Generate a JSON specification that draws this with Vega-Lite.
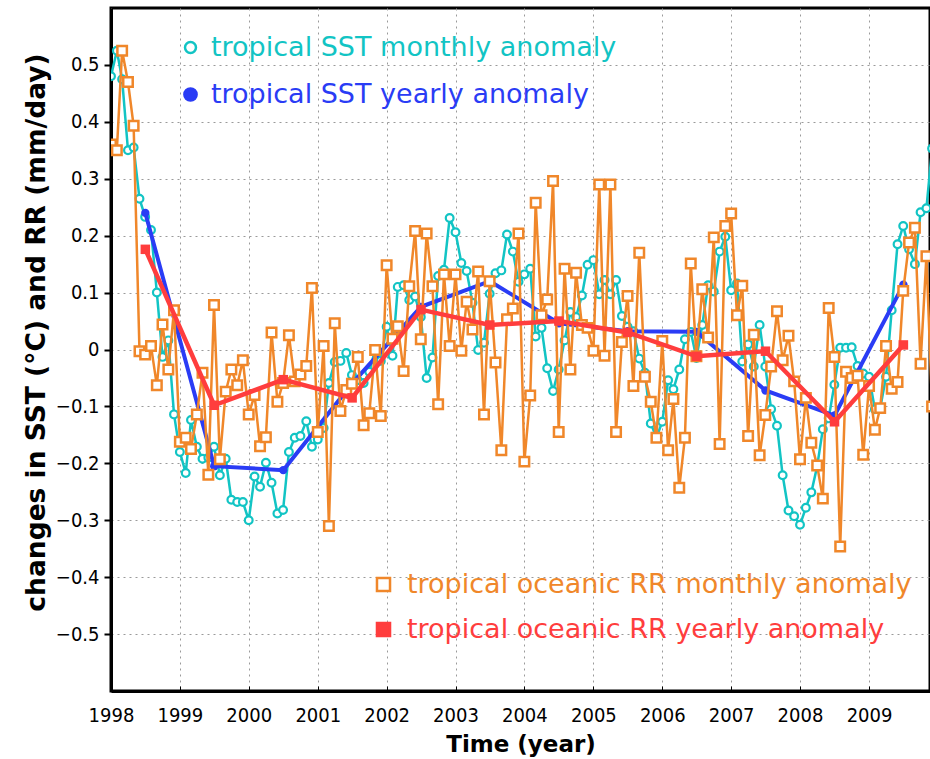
{
  "$schema": "https://vega.github.io/schema/vega-lite/v6.json",
  "width": 819,
  "height": 683,
  "autosize": {"type": "none"},
  "padding": {"left": 111, "top": 8, "right": 0, "bottom": 68},
  "background": "white",
  "datasets": {
    "monthly": [
      {"d": "1998-01-01", "sst": 0.48, "rr": 0.36},
      {"d": "1998-02-01", "sst": 0.525, "rr": 0.35},
      {"d": "1998-03-01", "sst": 0.475, "rr": 0.525},
      {"d": "1998-04-01", "sst": 0.35, "rr": 0.47},
      {"d": "1998-05-01", "sst": 0.355, "rr": 0.393},
      {"d": "1998-06-01", "sst": 0.265, "rr": -0.003},
      {"d": "1998-07-01", "sst": 0.233, "rr": -0.009},
      {"d": "1998-08-01", "sst": 0.21, "rr": 0.006},
      {"d": "1998-09-01", "sst": 0.1, "rr": -0.063},
      {"d": "1998-10-01", "sst": -0.013, "rr": 0.044},
      {"d": "1998-11-01", "sst": 0.016, "rr": -0.035},
      {"d": "1998-12-01", "sst": -0.114, "rr": 0.069},
      {"d": "1999-01-01", "sst": -0.18, "rr": -0.162},
      {"d": "1999-02-01", "sst": -0.217, "rr": -0.155},
      {"d": "1999-03-01", "sst": -0.124, "rr": -0.175},
      {"d": "1999-04-01", "sst": -0.171, "rr": -0.114},
      {"d": "1999-05-01", "sst": -0.192, "rr": -0.041},
      {"d": "1999-06-01", "sst": -0.19, "rr": -0.22},
      {"d": "1999-07-01", "sst": -0.171, "rr": 0.078},
      {"d": "1999-08-01", "sst": -0.221, "rr": -0.193},
      {"d": "1999-09-01", "sst": -0.192, "rr": -0.074},
      {"d": "1999-10-01", "sst": -0.264, "rr": -0.035},
      {"d": "1999-11-01", "sst": -0.268, "rr": -0.063},
      {"d": "1999-12-01", "sst": -0.268, "rr": -0.019},
      {"d": "2000-01-01", "sst": -0.3, "rr": -0.114},
      {"d": "2000-02-01", "sst": -0.223, "rr": -0.08},
      {"d": "2000-03-01", "sst": -0.241, "rr": -0.17},
      {"d": "2000-04-01", "sst": -0.199, "rr": -0.154},
      {"d": "2000-05-01", "sst": -0.234, "rr": 0.03},
      {"d": "2000-06-01", "sst": -0.288, "rr": -0.092},
      {"d": "2000-07-01", "sst": -0.282, "rr": -0.059},
      {"d": "2000-08-01", "sst": -0.18, "rr": 0.025},
      {"d": "2000-09-01", "sst": -0.155, "rr": -0.056},
      {"d": "2000-10-01", "sst": -0.152, "rr": -0.044},
      {"d": "2000-11-01", "sst": -0.126, "rr": -0.029},
      {"d": "2000-12-01", "sst": -0.171, "rr": 0.108},
      {"d": "2001-01-01", "sst": -0.158, "rr": -0.145},
      {"d": "2001-02-01", "sst": -0.138, "rr": 0.006},
      {"d": "2001-03-01", "sst": -0.059, "rr": -0.31},
      {"d": "2001-04-01", "sst": -0.022, "rr": 0.046},
      {"d": "2001-05-01", "sst": -0.02, "rr": -0.108},
      {"d": "2001-06-01", "sst": -0.006, "rr": -0.071},
      {"d": "2001-07-01", "sst": -0.045, "rr": -0.06},
      {"d": "2001-08-01", "sst": -0.054, "rr": -0.013},
      {"d": "2001-09-01", "sst": -0.059, "rr": -0.133},
      {"d": "2001-10-01", "sst": -0.039, "rr": -0.112},
      {"d": "2001-11-01", "sst": 0.0, "rr": -0.001},
      {"d": "2001-12-01", "sst": -0.02, "rr": -0.117},
      {"d": "2002-01-01", "sst": 0.04, "rr": 0.148},
      {"d": "2002-02-01", "sst": -0.011, "rr": 0.019},
      {"d": "2002-03-01", "sst": 0.11, "rr": 0.041},
      {"d": "2002-04-01", "sst": 0.113, "rr": -0.038},
      {"d": "2002-05-01", "sst": 0.087, "rr": 0.111},
      {"d": "2002-06-01", "sst": 0.093, "rr": 0.208},
      {"d": "2002-07-01", "sst": 0.057, "rr": 0.018},
      {"d": "2002-08-01", "sst": -0.05, "rr": 0.204},
      {"d": "2002-09-01", "sst": -0.014, "rr": 0.111},
      {"d": "2002-10-01", "sst": 0.129, "rr": -0.096},
      {"d": "2002-11-01", "sst": 0.14, "rr": 0.132},
      {"d": "2002-12-01", "sst": 0.231, "rr": 0.006},
      {"d": "2003-01-01", "sst": 0.206, "rr": 0.132},
      {"d": "2003-02-01", "sst": 0.152, "rr": -0.002},
      {"d": "2003-03-01", "sst": 0.138, "rr": 0.084},
      {"d": "2003-04-01", "sst": 0.082, "rr": 0.035},
      {"d": "2003-05-01", "sst": -0.001, "rr": 0.137},
      {"d": "2003-06-01", "sst": 0.012, "rr": -0.114},
      {"d": "2003-07-01", "sst": 0.098, "rr": 0.12},
      {"d": "2003-08-01", "sst": 0.134, "rr": -0.023},
      {"d": "2003-09-01", "sst": 0.139, "rr": -0.177},
      {"d": "2003-10-01", "sst": 0.202, "rr": 0.053},
      {"d": "2003-11-01", "sst": 0.172, "rr": 0.072},
      {"d": "2003-12-01", "sst": 0.119, "rr": 0.204},
      {"d": "2004-01-01", "sst": 0.132, "rr": -0.197},
      {"d": "2004-02-01", "sst": 0.142, "rr": -0.081},
      {"d": "2004-03-01", "sst": 0.023, "rr": 0.258},
      {"d": "2004-04-01", "sst": 0.038, "rr": 0.06},
      {"d": "2004-05-01", "sst": -0.033, "rr": 0.088},
      {"d": "2004-06-01", "sst": -0.073, "rr": 0.296},
      {"d": "2004-07-01", "sst": -0.035, "rr": -0.145},
      {"d": "2004-08-01", "sst": 0.016, "rr": 0.142},
      {"d": "2004-09-01", "sst": 0.066, "rr": -0.035},
      {"d": "2004-10-01", "sst": 0.057, "rr": 0.135},
      {"d": "2004-11-01", "sst": 0.095, "rr": 0.043},
      {"d": "2004-12-01", "sst": 0.149, "rr": 0.038},
      {"d": "2005-01-01", "sst": 0.157, "rr": -0.002},
      {"d": "2005-02-01", "sst": 0.097, "rr": 0.29},
      {"d": "2005-03-01", "sst": 0.122, "rr": -0.011},
      {"d": "2005-04-01", "sst": 0.097, "rr": 0.29},
      {"d": "2005-05-01", "sst": 0.122, "rr": -0.145},
      {"d": "2005-06-01", "sst": 0.059, "rr": 0.013},
      {"d": "2005-07-01", "sst": 0.04, "rr": 0.094},
      {"d": "2005-08-01", "sst": 0.032, "rr": -0.064},
      {"d": "2005-09-01", "sst": -0.016, "rr": 0.17},
      {"d": "2005-10-01", "sst": -0.041, "rr": -0.048},
      {"d": "2005-11-01", "sst": -0.13, "rr": -0.092},
      {"d": "2005-12-01", "sst": -0.155, "rr": -0.155},
      {"d": "2006-01-01", "sst": -0.127, "rr": 0.015},
      {"d": "2006-02-01", "sst": -0.054, "rr": -0.177},
      {"d": "2006-03-01", "sst": -0.07, "rr": -0.087},
      {"d": "2006-04-01", "sst": -0.035, "rr": -0.243},
      {"d": "2006-05-01", "sst": 0.018, "rr": -0.155},
      {"d": "2006-06-01", "sst": 0.031, "rr": 0.151},
      {"d": "2006-07-01", "sst": -0.015, "rr": -0.012},
      {"d": "2006-08-01", "sst": 0.043, "rr": 0.106},
      {"d": "2006-09-01", "sst": 0.113, "rr": 0.021},
      {"d": "2006-10-01", "sst": 0.102, "rr": 0.197},
      {"d": "2006-11-01", "sst": 0.172, "rr": -0.166},
      {"d": "2006-12-01", "sst": 0.198, "rr": 0.217},
      {"d": "2007-01-01", "sst": 0.104, "rr": 0.239},
      {"d": "2007-02-01", "sst": 0.116, "rr": 0.06},
      {"d": "2007-03-01", "sst": -0.021, "rr": 0.112},
      {"d": "2007-04-01", "sst": 0.009, "rr": -0.152},
      {"d": "2007-05-01", "sst": -0.03, "rr": 0.026},
      {"d": "2007-06-01", "sst": 0.043, "rr": -0.186},
      {"d": "2007-07-01", "sst": -0.03, "rr": -0.115},
      {"d": "2007-08-01", "sst": -0.105, "rr": -0.03},
      {"d": "2007-09-01", "sst": -0.134, "rr": 0.067},
      {"d": "2007-10-01", "sst": -0.221, "rr": -0.019},
      {"d": "2007-11-01", "sst": -0.283, "rr": 0.024},
      {"d": "2007-12-01", "sst": -0.293, "rr": -0.056},
      {"d": "2008-01-01", "sst": -0.308, "rr": -0.193},
      {"d": "2008-02-01", "sst": -0.278, "rr": -0.085},
      {"d": "2008-03-01", "sst": -0.251, "rr": -0.164},
      {"d": "2008-04-01", "sst": -0.205, "rr": -0.204},
      {"d": "2008-05-01", "sst": -0.14, "rr": -0.262},
      {"d": "2008-06-01", "sst": -0.121, "rr": 0.073},
      {"d": "2008-07-01", "sst": -0.062, "rr": -0.013},
      {"d": "2008-08-01", "sst": 0.003, "rr": -0.346},
      {"d": "2008-09-01", "sst": 0.003, "rr": -0.039},
      {"d": "2008-10-01", "sst": 0.004, "rr": -0.05},
      {"d": "2008-11-01", "sst": -0.029, "rr": -0.046},
      {"d": "2008-12-01", "sst": -0.042, "rr": -0.185},
      {"d": "2009-01-01", "sst": -0.048, "rr": -0.064},
      {"d": "2009-02-01", "sst": -0.105, "rr": -0.141},
      {"d": "2009-03-01", "sst": -0.103, "rr": -0.103},
      {"d": "2009-04-01", "sst": -0.048, "rr": 0.006},
      {"d": "2009-05-01", "sst": 0.069, "rr": -0.069},
      {"d": "2009-06-01", "sst": 0.185, "rr": -0.057},
      {"d": "2009-07-01", "sst": 0.217, "rr": 0.103},
      {"d": "2009-08-01", "sst": 0.176, "rr": 0.188},
      {"d": "2009-09-01", "sst": 0.15, "rr": 0.214},
      {"d": "2009-10-01", "sst": 0.241, "rr": -0.025},
      {"d": "2009-11-01", "sst": 0.248, "rr": 0.164},
      {"d": "2009-12-01", "sst": 0.353, "rr": -0.1}
    ],
    "yearly": [
      {"d": "1998-07-02", "sst": 0.24, "rr": 0.176},
      {"d": "1999-07-02", "sst": -0.205, "rr": -0.098},
      {"d": "2000-07-02", "sst": -0.212, "rr": -0.053},
      {"d": "2001-07-02", "sst": -0.06, "rr": -0.085},
      {"d": "2002-07-02", "sst": 0.075, "rr": 0.07},
      {"d": "2003-07-02", "sst": 0.12, "rr": 0.043},
      {"d": "2004-07-02", "sst": 0.046, "rr": 0.05},
      {"d": "2005-07-02", "sst": 0.032, "rr": 0.03},
      {"d": "2006-07-02", "sst": 0.031, "rr": -0.012},
      {"d": "2007-07-02", "sst": -0.072, "rr": -0.003},
      {"d": "2008-07-02", "sst": -0.116, "rr": -0.127},
      {"d": "2009-07-02", "sst": 0.114, "rr": 0.008}
    ]
  },
  "config": {
    "view": {"stroke": "black", "strokeWidth": 3},
    "axis": {
      "gridColor": "#9a9a9a",
      "gridDash": [2, 4],
      "gridWidth": 1,
      "gridOpacity": 1,
      "domainColor": "black",
      "domainWidth": 3,
      "tickColor": "black",
      "labelColor": "black",
      "titleColor": "black",
      "labelFont": "Liberation Sans Narrow, DejaVu Sans Condensed, Liberation Sans, sans-serif",
      "labelFontSize": 20,
      "titleFont": "DejaVu Sans",
      "titleFontWeight": "bold",
      "titleFontSize": 23
    },
    "legend": {
      "orient": "none",
      "title": null,
      "padding": 0,
      "labelFont": "DejaVu Sans",
      "labelFontSize": 27,
      "labelLimit": 0,
      "symbolStrokeWidth": 2.5,
      "symbolOpacity": 1
    }
  },
  "encoding": {
    "x": {
      "field": "d",
      "type": "temporal",
      "scale": {
        "type": "utc",
        "domain": [
          {"year": 1998, "month": 1, "date": 1, "utc": true},
          {"year": 2009, "month": 11, "date": 20, "utc": true}
        ]
      },
      "axis": {
        "title": "Time (year)",
        "format": "%Y",
        "formatType": "utc",
        "tickCount": {"interval": "year", "step": 1},
        "tickSize": -5,
        "tickWidth": 1,
        "labelPadding": 19,
        "titlePadding": 8,
        "labelFlush": false,
        "labelOverlap": false
      }
    }
  },
  "layer": [
    {
      "layer": [
        {
          "data": {"name": "monthly"},
          "mark": {"type": "line", "strokeWidth": 2.5, "clip": true},
          "encoding": {
            "y": {
              "field": "sst", "type": "quantitative",
              "scale": {"domain": [-0.6, 0.6], "nice": false, "zero": false},
              "axis": {
                "title": "changes in SST (°C) and RR (mm/day)",
                "titleFontSize": 26.5,
                "values": [-0.5, -0.4, -0.3, -0.2, -0.1, 0, 0.1, 0.2, 0.3, 0.4, 0.5],
                "labelExpr": "datum.value == 0 ? '0' : format(datum.value, '.1f')",
                "tickSize": 7, "tickWidth": 2, "labelPadding": 5, "titlePadding": 5,
                "titleY": 324
              }
            },
            "color": {
              "datum": "tropical SST monthly anomaly",
              "scale": {"domain": ["tropical SST monthly anomaly"], "range": ["#12c4c4"]},
              "legend": {
                "legendX": 66, "legendY": 26,
                "symbolType": "circle", "symbolSize": 120,
                "symbolFillColor": "white", "symbolStrokeColor": "#12c4c4",
                "labelColor": "#12c4c4", "labelOffset": 7
              }
            }
          }
        },
        {
          "data": {"name": "monthly"},
          "mark": {"type": "point", "shape": "circle", "filled": false, "fill": "white", "size": 60, "strokeWidth": 2.2, "opacity": 1, "clip": true},
          "encoding": {
            "y": {"field": "sst", "type": "quantitative"},
            "color": {"datum": "tropical SST monthly anomaly"}
          }
        }
      ]
    },
    {
      "layer": [
        {
          "data": {"name": "yearly"},
          "mark": {"type": "line", "strokeWidth": 4, "clip": true},
          "encoding": {
            "y": {"field": "sst", "type": "quantitative"},
            "color": {
              "datum": "tropical SST yearly anomaly",
              "scale": {"domain": ["tropical SST yearly anomaly"], "range": ["#2a3cf5"]},
              "legend": {
                "legendX": 66, "legendY": 73,
                "symbolType": "circle", "symbolSize": 150,
                "symbolFillColor": "#2a3cf5", "symbolStrokeColor": "#2a3cf5",
                "labelColor": "#2a3cf5", "labelOffset": 7
              }
            }
          }
        },
        {
          "data": {"name": "yearly"},
          "mark": {"type": "point", "shape": "circle", "filled": true, "size": 70, "opacity": 1, "clip": true},
          "encoding": {
            "y": {"field": "sst", "type": "quantitative"},
            "color": {"datum": "tropical SST yearly anomaly"}
          }
        }
      ]
    },
    {
      "layer": [
        {
          "data": {"name": "monthly"},
          "mark": {"type": "line", "strokeWidth": 2.5, "clip": true},
          "encoding": {
            "y": {"field": "rr", "type": "quantitative"},
            "color": {
              "datum": "tropical oceanic RR monthly anomaly",
              "scale": {"domain": ["tropical oceanic RR monthly anomaly"], "range": ["#f0872a"]},
              "legend": {
                "legendX": 259, "legendY": 563,
                "symbolType": "square", "symbolSize": 170,
                "symbolFillColor": "white", "symbolStrokeColor": "#f0872a",
                "labelColor": "#f0872a", "labelOffset": 10
              }
            }
          }
        },
        {
          "data": {"name": "monthly"},
          "mark": {"type": "point", "shape": "square", "filled": false, "fill": "white", "size": 90, "strokeWidth": 2.5, "opacity": 1, "clip": true},
          "encoding": {
            "y": {"field": "rr", "type": "quantitative"},
            "color": {"datum": "tropical oceanic RR monthly anomaly"}
          }
        }
      ]
    },
    {
      "layer": [
        {
          "data": {"name": "yearly"},
          "mark": {"type": "line", "strokeWidth": 4.5, "clip": true},
          "encoding": {
            "y": {"field": "rr", "type": "quantitative"},
            "color": {
              "datum": "tropical oceanic RR yearly anomaly",
              "scale": {"domain": ["tropical oceanic RR yearly anomaly"], "range": ["#ff3d3d"]},
              "legend": {
                "legendX": 259, "legendY": 608,
                "symbolType": "square", "symbolSize": 170,
                "symbolFillColor": "#ff3d3d", "symbolStrokeColor": "#ff3d3d",
                "labelColor": "#ff3d3d", "labelOffset": 10
              }
            }
          }
        },
        {
          "data": {"name": "yearly"},
          "mark": {"type": "point", "shape": "square", "filled": true, "size": 90, "opacity": 1, "clip": true},
          "encoding": {
            "y": {"field": "rr", "type": "quantitative"},
            "color": {"datum": "tropical oceanic RR yearly anomaly"}
          }
        }
      ]
    }
  ],
  "resolve": {"scale": {"color": "independent"}}
}
